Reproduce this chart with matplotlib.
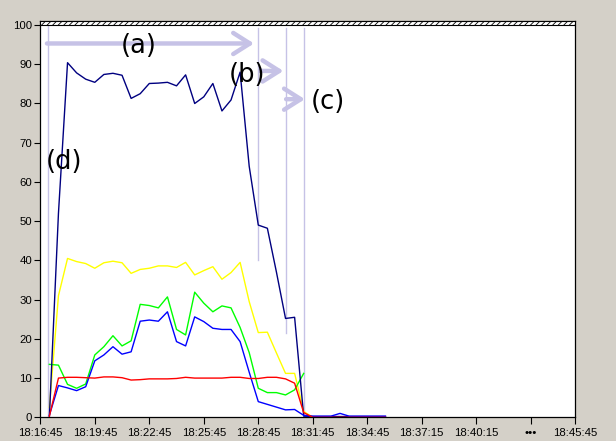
import matplotlib
matplotlib.use("Agg")
import matplotlib.pyplot as plt

# seconds after 18:16:45, one sample every 30 s
sample_sec = [30, 60, 90, 120, 150, 180, 210, 240, 270, 300, 330, 360, 390,
              420, 450, 480, 510, 540, 570, 600, 630, 660, 690, 720, 750, 780,
              810, 840, 870, 900, 930, 960, 990, 1020, 1050, 1080, 1110, 1140]

navy = [0, 52, 90.4, 87.8, 86.2, 85.4, 87.4, 87.7, 87.2, 81.3, 82.5, 85.1, 85.2,
        85.4, 84.5, 87.3, 80.0, 81.7, 85.1, 78.1, 80.9, 88.0, 64.0, 49.0, 48.2,
        37.0, 25.2, 25.5, 0.3, 0.2, 0.2, 0.2, 0.2, 0.2, 0.2, 0.2, 0.2, 0.2]
yellow = [2.5, 31, 40.5, 39.7, 39.2, 38.0, 39.4, 39.8, 39.4, 36.7, 37.7, 38.0,
          38.6, 38.6, 38.2, 39.5, 36.3, 37.4, 38.4, 35.2, 36.9, 39.5, 29.5, 21.6,
          21.7, 16.4, 11.2, 11.2, 1.5, 0, 0, 0, 0, 0, 0, 0, 0, 0]
green = [13.5, 13.3, 8.4, 7.4, 8.5, 15.9, 18.0, 20.8, 18.2, 19.5, 28.8, 28.5,
         27.9, 30.7, 22.4, 21.0, 31.9, 29.1, 26.9, 28.4, 27.9, 22.9, 16.5, 7.4,
         6.3, 6.3, 5.7, 7.0, 11.2, None, None, None, None, None, None, None, None, None]
blue = [0.5, 8.1, 7.5, 6.8, 7.8, 14.4, 15.9, 18.0, 16.1, 16.7, 24.5, 24.8, 24.5,
        26.9, 19.3, 18.2, 25.6, 24.4, 22.7, 22.4, 22.4, 19.3, 11.5, 4.0, 3.3, 2.6,
        1.9, 2.0, 0.5, 0.3, 0.3, 0.3, 1.0, 0.3, 0.3, 0.3, 0.3, 0.3]
red = [0.3, 10.0, 10.2, 10.2, 10.1, 10.0, 10.3, 10.3, 10.1, 9.5, 9.6, 9.8, 9.8,
       9.8, 9.9, 10.2, 10.0, 10.0, 10.0, 10.0, 10.2, 10.2, 9.9, 9.9, 10.2, 10.2,
       9.8, 8.7, 1.2, 0, 0, 0, 0, 0, 0, 0, 0, 0]

tick_sec = [0, 180, 360, 540, 720, 900, 1080, 1260, 1440, 1620, 1767]
tick_labels = ["18:16:45", "18:19:45", "18:22:45", "18:25:45", "18:28:45",
               "18:31:45", "18:34:45", "18:37:15", "18:40:15", "\u2022\u2022\u2022", "18:45:45"]

# phase markers: (time, lower end of the line)
marker_lines = [(26, 0), (718, 40), (811, 21.4), (872, 0)]
# phase arrows: (start, end, level)
phase_arrows = [(22, 706, 95.3), (726, 803, 88.3), (812, 874, 81.1)]
phase_labels = [("(a)", 325, 94.6), ("(b)", 682, 87.3), ("(c)", 949, 80.5), ("(d)", 79, 65.2)]

plt.rcParams["hatch.linewidth"] = 0.6
fig = plt.figure(figsize=(6.16, 4.41), dpi=100, facecolor="#d4d0c8")
ax = fig.add_axes([0.0654, 0.0537, 0.8685, 0.8993])
ax.set_facecolor("white")

lav = "#c6c2e6"
for t, low in marker_lines:
    top = 100 if t < 100 else 99.3
    ax.plot([t, t], [low, top], color=lav, lw=1.0, zorder=1)

ax.plot(sample_sec, yellow, color="#ffff00", lw=1.0, zorder=2)
ax.plot(sample_sec, green, color="#00ff00", lw=1.0, zorder=2)
ax.plot(sample_sec, navy, color="#000080", lw=1.0, zorder=3)
ax.plot(sample_sec, blue, color="#0000ff", lw=1.0, zorder=3)
ax.plot(sample_sec, red, color="#ff0000", lw=1.0, zorder=4)

for x0, x1, y in phase_arrows:
    ax.annotate("", xy=(x1, y), xytext=(x0, y),
                arrowprops=dict(arrowstyle="->,head_length=0.6,head_width=0.38",
                                color=lav, lw=3.2, shrinkA=0, shrinkB=0,
                                mutation_scale=20), zorder=5)

for txt, t, v in phase_labels:
    ax.text(t, v, txt, fontsize=18.5, ha="center", va="center", color="black", zorder=6)

ax.set_xlim(0, 1767)
ax.set_ylim(0, 101.1)
ax.axhspan(100, 101.1, facecolor="white", edgecolor="black", hatch="//////", lw=0.8, zorder=7)

ax.set_yticks(range(0, 101, 10))
ax.set_xticks(tick_sec)
ax.set_xticklabels(tick_labels)
for lab in ax.get_xticklabels() + ax.get_yticklabels():
    lab.set_family(["Liberation Sans", "DejaVu Sans"])
    lab.set_fontsize(8.2)
ax.tick_params(axis="y", length=4, width=0.8, pad=2)
ax.tick_params(axis="x", length=5, width=0.8, pad=2.5)
for s in ax.spines.values():
    s.set_linewidth(0.9)

fig.savefig("out.png", dpi=100, facecolor=fig.get_facecolor())
